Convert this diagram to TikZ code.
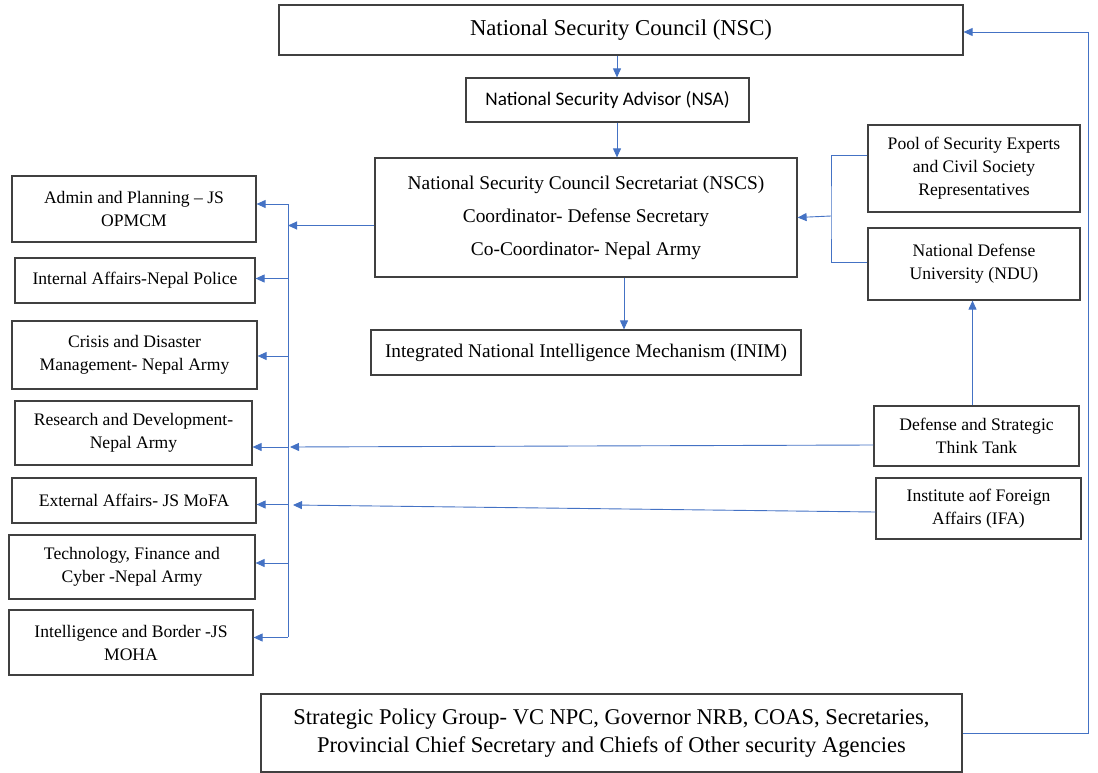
\documentclass[tikz,border=0pt]{standalone}
\usepackage{fontspec}
\setmainfont{Liberation Serif}
\newfontfamily\calibrifont{Carlito}
\usepackage{xcolor}
\usepackage{tikz}
\usetikzlibrary{arrows.meta}
\definecolor{linkblue}{HTML}{4472C4}

\begin{document}
\begin{tikzpicture}[
    x=1pt, y=-1pt,
    box/.style={rectangle, draw=black!75, line width=1.2pt, align=center, inner sep=2pt, font=\fontsize{17.6}{23}\selectfont},
    arrow/.style={-{Triangle[length=9pt, width=8pt]}, draw=linkblue, line width=0.9pt},
    link/.style={draw=linkblue, line width=0.9pt}
]
    \useasboundingbox (0,0) rectangle (1098,773);

    % top of the chain
    \node[box, minimum width=684, minimum height=50, font=\fontsize{22.7}{26}\selectfont] (nsc) at (621,30) {National Security Council (NSC)};
    \node[box, minimum width=283, minimum height=44, font=\calibrifont\fontsize{19.2}{22}\selectfont] (nsa) at (607.5,100) {National Security Advisor (NSA)};
    \node[box, minimum width=422, minimum height=119, font=\fontsize{19.4}{33}\selectfont] (nscs) at (586,217.5) {National Security Council Secretariat (NSCS)\\Coordinator- Defense Secretary\\Co-Coordinator- Nepal Army};
    \node[box, minimum width=430, minimum height=45, font=\fontsize{19.3}{22}\selectfont] (inim) at (586,352.5) {Integrated National Intelligence Mechanism (INIM)};

    % right side
    \node[box, minimum width=212, minimum height=87] (pool) at (974,168.5) {Pool of Security Experts\\and Civil Society\\Representatives};
    \node[box, minimum width=212, minimum height=72] (ndu) at (974,264) {National Defense\\University (NDU)};
    \node[box, minimum width=205, minimum height=60] (think) at (976.5,436) {Defense and Strategic\\Think Tank};
    \node[box, minimum width=205, minimum height=61] (ifa) at (978.5,508.5) {Institute aof Foreign\\Affairs (IFA)};

    % left side
    \node[box, minimum width=244, minimum height=66] (admin) at (134,209) {Admin and Planning -- JS\\OPMCM};
    \node[box, minimum width=240, minimum height=45] (internal) at (135,280.5) {Internal Affairs-Nepal Police};
    \node[box, minimum width=245, minimum height=68] (crisis) at (134.5,355) {Crisis and Disaster\\Management- Nepal Army};
    \node[box, minimum width=237, minimum height=64] (research) at (133.5,433) {Research and Development-\\Nepal Army};
    \node[box, minimum width=244, minimum height=45] (external) at (134,500.5) {External Affairs- JS MoFA};
    \node[box, minimum width=246, minimum height=64] (tech) at (132,567) {Technology, Finance and\\Cyber -Nepal Army};
    \node[box, minimum width=244, minimum height=65] (intel) at (131,642.5) {Intelligence and Border -JS\\MOHA};

    % bottom
    \node[box, minimum width=701, minimum height=78, font=\fontsize{22.5}{28}\selectfont] (spg) at (611.5,733) {Strategic Policy Group- VC NPC, Governor NRB, COAS, Secretaries,\\Provincial Chief Secretary and Chiefs of Other security Agencies};

    \coordinate (bustop) at (288,204);
    \coordinate (busbot) at (288,637);
    \coordinate (merge) at (831,216);
    \coordinate (loop) at (1088,32);

    % main chain
    \draw[arrow] ([xshift=-4pt]nsc.south) -- ([xshift=-4pt]nsc.south |- nsa.north);
    \draw[arrow] ([xshift=9.5pt]nsa.south) -- ([xshift=9.5pt]nsa.south |- nscs.north);
    \draw[arrow] ([xshift=38pt]nscs.south) -- ([xshift=38pt]nscs.south |- inim.north);

    % distribution bus
    \draw[link] (bustop) -- (busbot);
    \draw[arrow] ([yshift=-8pt]nscs.west) -- ([yshift=-8pt]nscs.west -| bustop);
    \foreach \n/\dy in {admin/5, internal/2, crisis/-1, research/-14, external/-4, tech/4, intel/5}
        \draw[arrow] ([yshift=\dy pt]\n.east -| bustop) -- ([yshift=\dy pt]\n.east);

    % think tanks
    \draw[arrow] ([yshift=-9pt]think.west) -- ([yshift=-11pt, xshift=2pt]think.west -| bustop);
    \draw[arrow] ([yshift=-3.5pt]ifa.west) -- ([yshift=3.5pt, xshift=5pt]ifa.west -| bustop);
    \draw[arrow] ([xshift=-4pt]think.north) -- ([xshift=-4pt]think.north |- ndu.south);

    % advisory bodies
    \draw[link] ([yshift=13.5pt]pool.west) -| (merge) |- ([yshift=2pt]ndu.west);
    \draw[arrow] (merge) -- (nscs.east);

    % feedback to the council
    \draw[arrow] (spg.east) -- (spg.east -| loop) -- (loop) -- ([yshift=-2pt]nsc.east);
\end{tikzpicture}
\end{document}
